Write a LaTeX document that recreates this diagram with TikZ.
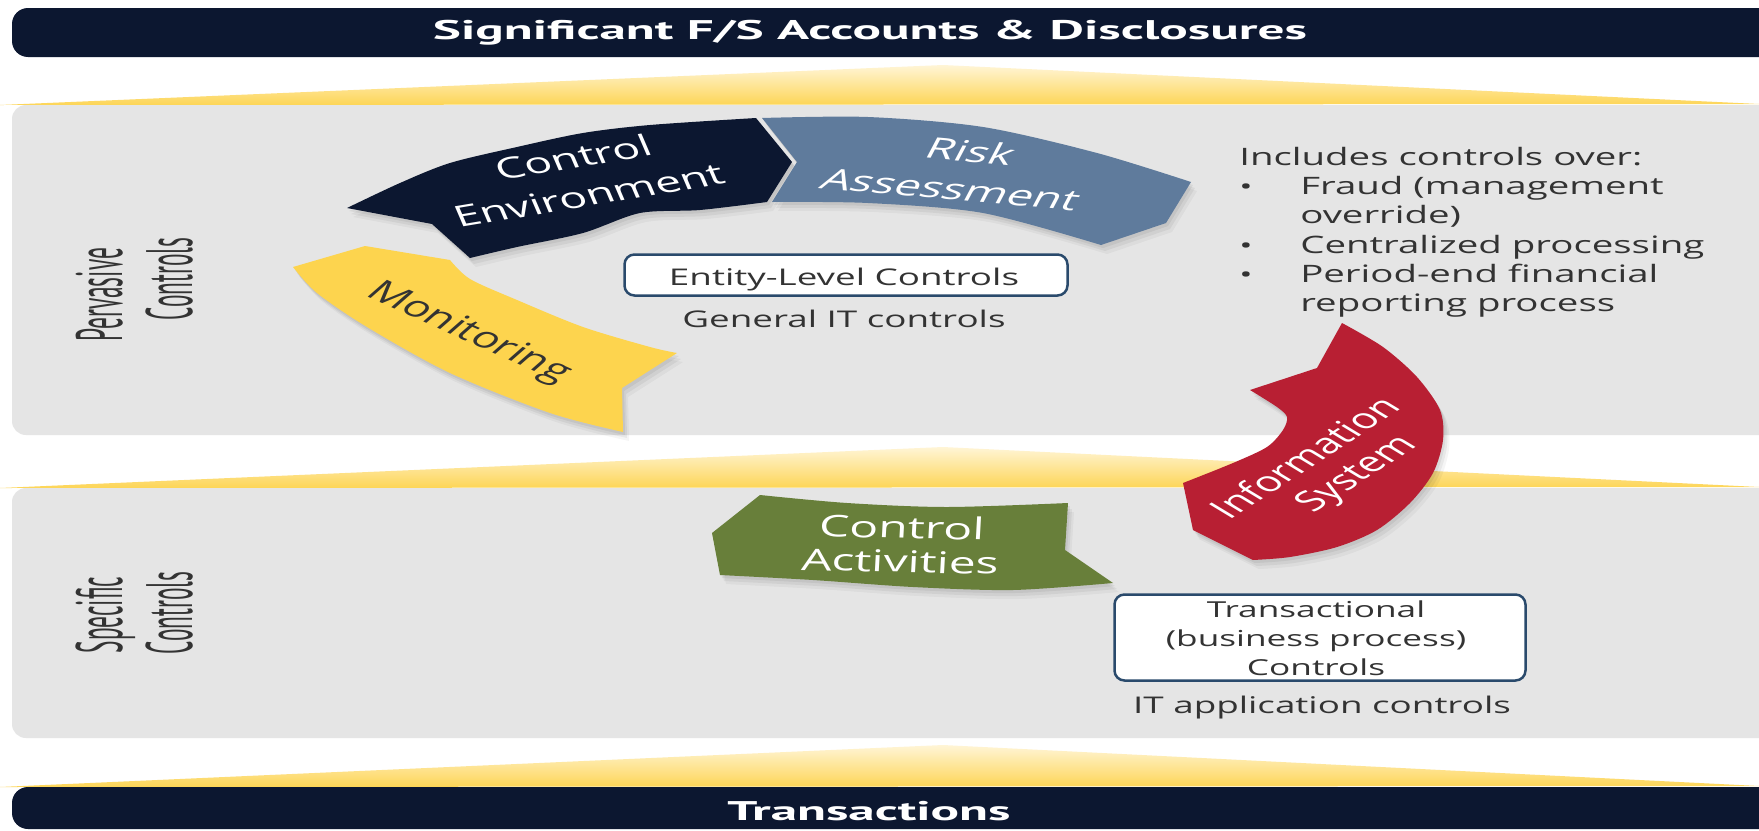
\documentclass[tikz,border=0pt]{standalone}
\usepackage{fontspec}
\setmainfont{Open Sans}
\newfontfamily\hdrfont{PT Sans}[FakeStretch=1.23]
\newfontfamily\sidefont{PT Sans}[FakeStretch=0.57]
\definecolor{navyc}{HTML}{0C1730}
\definecolor{slatec}{HTML}{5F7B9C}
\definecolor{yellowc}{HTML}{FDD44E}
\definecolor{redc}{HTML}{B81F33}
\definecolor{greenc}{HTML}{687F3A}
\definecolor{panelc}{HTML}{E5E5E5}
\definecolor{trilight}{HTML}{FFF5D6}
\definecolor{tridark}{HTML}{FDD556}
\definecolor{boxline}{HTML}{2A4A6C}
\definecolor{txtc}{HTML}{333333}
\newcommand{\xstr}{1.6}
\newcommand{\stxt}[4]{\begin{scope}[shift={#1},xscale=\xstr]\node[transform shape,inner sep=0pt,#2] (#3) at (0,0) {#4};\end{scope}}
\newcommand{\softshadow}[1]{%
  \begin{scope}[shift={(2,3)}]\fill[black,opacity=0.06] #1;\end{scope}%
  \begin{scope}[shift={(4,6)}]\fill[black,opacity=0.05] #1;\end{scope}%
  \begin{scope}[shift={(6,9)}]\fill[black,opacity=0.04] #1;\end{scope}}
\newcommand{\pathMon}{(293,267) -- (365,246) -- (450,260)
  -- plot[smooth] coordinates {(450,260) (470,279) (517,300) (583,327) (650,347) (677,353)}
  -- (622,388) -- (623,432)
  -- plot[smooth] coordinates {(623,432) (550,413) (450,373) (367,327) (317,293) (293,267)} -- cycle}
\newcommand{\pathCE}{(347,208)
  -- plot[smooth] coordinates {(347,208) (400,183) (450,163) (517,147) (583,133) (650,125) (756,118)}
  -- (792,162) -- (767,202)
  -- plot[smooth] coordinates {(767,202) (700,210) (640,213) (583,233) (517,247) (470,258)}
  -- (432,224) -- cycle}
\newcommand{\pathRA}{(762,118)
  -- plot[smooth] coordinates {(762,118) (868,117) (983,127) (1097,153) (1191,182)}
  -- (1166,223) -- (1101,245)
  -- plot[smooth] coordinates {(1101,245) (983,213) (868,203) (772,202)}
  -- (797,162) -- cycle}
\newcommand{\pathIS}{(1342,323)
  -- plot[smooth] coordinates {(1342,323) (1383,347) (1417,377) (1440,410) (1443,440) (1433,473) (1410,503) (1377,530) (1337,547) (1290,557) (1253,560)}
  -- (1193,530) -- (1183,483)
  -- plot[smooth] coordinates {(1183,483) (1233,463) (1267,447) (1283,430) (1287,417) (1277,407) (1250,390)}
  -- (1317,368) -- cycle}
\newcommand{\pathCA}{(712,533) -- (760,495)
  -- plot[smooth] coordinates {(760,495) (847,503) (947,507) (1068,503)}
  -- (1065,550) -- (1113,583)
  -- plot[smooth] coordinates {(1113,583) (1013,590) (913,587) (813,580) (720,575)} -- cycle}
\tikzset{
  tri/.style={top color=trilight, bottom color=tridark},
  panel/.style={fill=panelc, rounded corners=14pt},
  bar/.style={fill=navyc, rounded corners=16pt},
  wbox/.style={draw=boxline, line width=2.5pt, fill=white, rounded corners=10pt, inner sep=0pt},
  arrowtxt/.style={align=center, font=\fontsize{29}{39}\selectfont},
  bodytxt/.style={anchor=base, text=txtc, font=\fontsize{23}{29}\selectfont},
  inctxt/.style={anchor=base west, text=txtc, font=\fontsize{24}{29}\selectfont},
  sidetxt/.style={anchor=base, rotate=90, text=txtc, font=\sidefont\fontsize{41}{44}\selectfont},
  hdrtxt/.style={anchor=base, text=white, font=\hdrfont\bfseries\fontsize{27}{30}\selectfont}
}
\begin{document}
\begin{tikzpicture}[x=1pt,y=-1pt]
\useasboundingbox (0,0) rectangle (1759,830);
\fill[white] (0,0) rectangle (1759,830);
% bands
\fill[bar] (12,8) rectangle (1800,57);
\shade[tri] (0,105) -- (943,65) -- (1759,104) -- cycle;
\fill[panel] (12,105) rectangle (1800,435);
\shade[tri] (0,488) -- (943,447) -- (1759,487) -- cycle;
\fill[panel] (12,488) rectangle (1800,738);
\shade[tri] (0,787) -- (943,745) -- (1759,786) -- cycle;
\fill[bar] (12,787) rectangle (1800,829);
\stxt{(870,39)}{hdrtxt}{hdr}{Significant F/S Accounts \& Disclosures}
\stxt{(869,820)}{hdrtxt}{trans}{Transactions}
% side labels
\stxt{(122,295)}{sidetxt}{perv1}{Pervasive}
\stxt{(192,279)}{sidetxt}{perv2}{Controls}
\stxt{(122,615)}{sidetxt}{spec1}{Specific}
\stxt{(192,613)}{sidetxt}{spec2}{Controls}
% arrows
\softshadow{\pathMon}
\fill[yellowc] \pathMon;
\softshadow{\pathCE}
\fill[navyc] \pathCE;
\softshadow{\pathRA}
\fill[slatec] \pathRA;
\softshadow{\pathIS}
\fill[redc] \pathIS;
\softshadow{\pathCA}
\fill[greenc] \pathCA;
% arrow texts
\stxt{(581,176)}{arrowtxt, text=white, rotate=15}{ce}{Control\\Environment}
\stxt{(961,170)}{arrowtxt, text=white, rotate=-8, xslant=0.18}{ra}{Risk\\Assessment}
\stxt{(468,333)}{arrowtxt, text=txtc, rotate=-35.5}{mon}{Monitoring}
\stxt{(1304,457)}{font=\fontsize{28}{34}\selectfont, text=white, rotate=46}{is1}{Information}
\stxt{(1358,475)}{font=\fontsize{28}{34}\selectfont, text=white, rotate=46}{is2}{System}
\stxt{(901,544)}{text=white, align=center, font=\fontsize{30}{34}\selectfont, rotate=-2}{ca}{Control\\Activities}
% entity level
\node[wbox, minimum width=443pt, minimum height=41pt] (elcbox) at (846,275) {};
\stxt{(844,285)}{bodytxt}{elc}{Entity-Level Controls}
\stxt{(844,327)}{bodytxt}{gitc}{General IT controls}
% includes
\stxt{(1239,165)}{inctxt}{inc1}{Includes controls over:}
\stxt{(1239,194)}{inctxt}{bul1}{\fontsize{22}{22}\selectfont •}
\stxt{(1300,194)}{inctxt}{inc2}{Fraud (management}
\stxt{(1300,223)}{inctxt}{inc3}{override)}
\stxt{(1239,253)}{inctxt}{bul2}{\fontsize{22}{22}\selectfont •}
\stxt{(1300,253)}{inctxt}{inc4}{Centralized processing}
\stxt{(1239,282)}{inctxt}{bul3}{\fontsize{22}{22}\selectfont •}
\stxt{(1300,282)}{inctxt}{inc5}{Period-end financial}
\stxt{(1300,311)}{inctxt}{inc6}{reporting process}
% transactional
\node[wbox, minimum width=411pt, minimum height=86pt] (trbox) at (1320,637.5) {};
\stxt{(1316,617)}{bodytxt, font=\fontsize{22}{29}\selectfont}{tr1}{Transactional}
\stxt{(1316,646)}{bodytxt, font=\fontsize{22}{29}\selectfont}{tr2}{(business process)}
\stxt{(1316,675)}{bodytxt, font=\fontsize{22}{29}\selectfont}{tr3}{Controls}
\stxt{(1322,713)}{bodytxt}{itac}{IT application controls}
\end{tikzpicture}
\end{document}
